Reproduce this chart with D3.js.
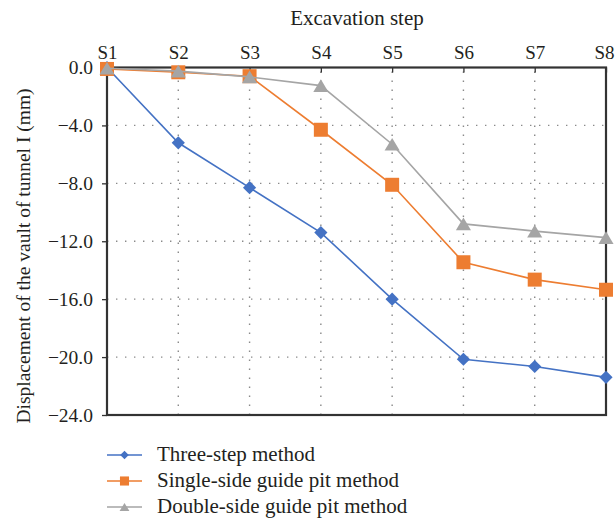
<!DOCTYPE html>
<html lang="en">
<head>
    <meta charset="UTF-8">
    <title>Vault displacement</title>
    <script src="https://d3js.org/d3.v7.min.js"></script>
    <style>
        body {margin: 0; background: white;}
        svg text {font-family: 'Liberation Serif';}
    </style>
</head>
<body>
<script>
    const width = 615;
    const height = 519;
    const font = "'Liberation Serif'";

    const steps = ["S1", "S2", "S3", "S4", "S5", "S6", "S7", "S8"];
    const yTicks = [0, -4, -8, -12, -16, -20, -24];

    const threeStep = [0, -5.2, -8.3, -11.4, -16.0, -20.15, -20.65, -21.4];
    const singleSide = [-0.1, -0.33, -0.6, -4.3, -8.1, -13.45, -14.65, -15.35];
    const doubleSide = [-0.05, -0.25, -0.65, -1.25, -5.3, -10.8, -11.3, -11.75];

    const seriesNames = ["Three-step method", "Single-side guide pit method", "Double-side guide pit method"];
    const seriesColors = ["#4472c4", "#ed7d31", "#a5a5a5"];

    const series = [threeStep, singleSide, doubleSide].map(function(vals, i) {
        return {name: seriesNames[i], color: seriesColors[i], kind: i, values: vals};
    });

    // marker shapes: rotated square, square, triangle
    function marker(kind, s) {
        if (kind === 0) {
            return "M0," + (-s) + "L" + s + ",0L0," + s + "L" + (-s) + ",0Z";
        } else if (kind === 1) {
            return "M" + (-s) + "," + (-s) + "h" + (2 * s) + "v" + (2 * s) + "h" + (-2 * s) + "Z";
        }
        const h = s * 1.75;
        return "M0," + (-h * 0.5) + "L" + (s * 1.05) + "," + (h * 0.5) + "L" + (-s * 1.05) + "," + (h * 0.5) + "Z";
    }
    const markerSize = [6.6, 7, 7.2];

    const margin = {left: 107, right: 9, top: 67.5, bottom: 104};

    const svg = d3.select("body").append("svg")
            .attr("width", width).attr("height", height);

    const x = d3.scalePoint()
            .domain(steps)
            .range([margin.left, width - margin.right]);

    const y = d3.scaleLinear()
            .domain([-24, 0])
            .range([height - margin.bottom, margin.top]);

    // dotted grid
    svg.append("g").attr("class", "grid-h")
            .selectAll("line")
            .data(yTicks.slice(1, -1))
            .enter().append("line")
            .attr("x1", margin.left).attr("x2", width - margin.right)
            .attr("y1", d => y(d)).attr("y2", d => y(d))
            .style("stroke", "#8a8a8a")
            .style("stroke-width", 1.4)
            .style("stroke-dasharray", "1.4 7.6");

    svg.append("g").attr("class", "grid-v")
            .selectAll("line")
            .data(steps.slice(1, -1))
            .enter().append("line")
            .attr("x1", d => x(d)).attr("x2", d => x(d))
            .attr("y1", margin.top + 4).attr("y2", height - margin.bottom)
            .style("stroke", "#8a8a8a")
            .style("stroke-width", 1.4)
            .style("stroke-dasharray", "1.4 7.6");

    // axes
    const yAxis = svg.append("g")
            .attr("transform", "translate(" + margin.left + ",0)")
            .call(d3.axisLeft(y).tickValues(yTicks).tickSize(5).tickPadding(9));

    const xAxis = svg.append("g")
            .attr("transform", "translate(0," + margin.top + ")")
            .call(d3.axisTop(x).tickSize(-5).tickPadding(9));

    [yAxis, xAxis].forEach(function(g) {
        g.attr("font-family", null);
        g.select(".domain").remove();
        g.selectAll("line").style("stroke", "#333").style("stroke-width", 1.3);
        g.selectAll("text").style("fill", "#231f20");
    });
    xAxis.selectAll("text").attr("dy", "0").style("font-size", "19px")
            .attr("x", d => d === "S8" ? -2 : 0);
    yAxis.selectAll("text").style("font-size", "19.5px")
            .text(d => d === 0 ? "0.0" : "\u2212" + d3.format(".1f")(-d));

    // frame
    svg.append("rect").attr("class", "frame")
            .attr("x", margin.left).attr("y", margin.top)
            .attr("width", width - margin.right - margin.left)
            .attr("height", height - margin.bottom - margin.top)
            .style("fill", "none")
            .style("stroke", "#333")
            .style("stroke-width", 2.2);

    // lines
    const line = d3.line()
            .x((d, i) => x(steps[i]))
            .y(d => y(d));

    const groups = svg.selectAll("g.series")
            .data(series)
            .enter().append("g").attr("class", "series");

    groups.append("path")
            .attr("d", d => line(d.values))
            .style("fill", "none")
            .style("stroke", d => d.color)
            .style("stroke-width", 1.6);

    groups.each(function(s) {
        d3.select(this).selectAll("path.mark")
                .data(s.values)
                .enter().append("path").attr("class", "mark")
                .attr("transform", (d, i) => "translate(" + x(steps[i]) + "," + y(d) + ")")
                .attr("d", marker(s.kind, markerSize[s.kind]))
                .style("fill", s.color);
    });

    // titles
    svg.append("text")
            .attr("x", 357).attr("y", 25)
            .attr("text-anchor", "middle")
            .style("font-size", "21px")
            .style("fill", "#231f20")
            .text("Excavation step");

    svg.append("text")
            .attr("transform", "translate(30,256) rotate(-90)")
            .attr("text-anchor", "middle")
            .style("font-size", "19.5px")
            .style("fill", "#231f20")
            .text("Displacement of the vault of tunnel I (mm)");

    // legend
    const legend = svg.append("g").attr("class", "legend")
            .selectAll("g")
            .data(series)
            .enter().append("g")
            .attr("transform", (d, i) => "translate(107," + (455 + i * 26) + ")");

    legend.append("line")
            .attr("x1", 0).attr("x2", 35)
            .style("stroke", d => d.color)
            .style("stroke-width", 1.6);

    legend.append("path")
            .attr("transform", "translate(17.5,0)")
            .attr("d", d => marker(d.kind, markerSize[d.kind] * 0.65))
            .style("fill", d => d.color);

    legend.append("text")
            .attr("x", 50).attr("y", 6)
            .style("font-size", "21px")
            .style("fill", "#231f20")
            .text(d => d.name);

    svg.selectAll("text").style("font-family", font);
</script>
</body>
</html>
